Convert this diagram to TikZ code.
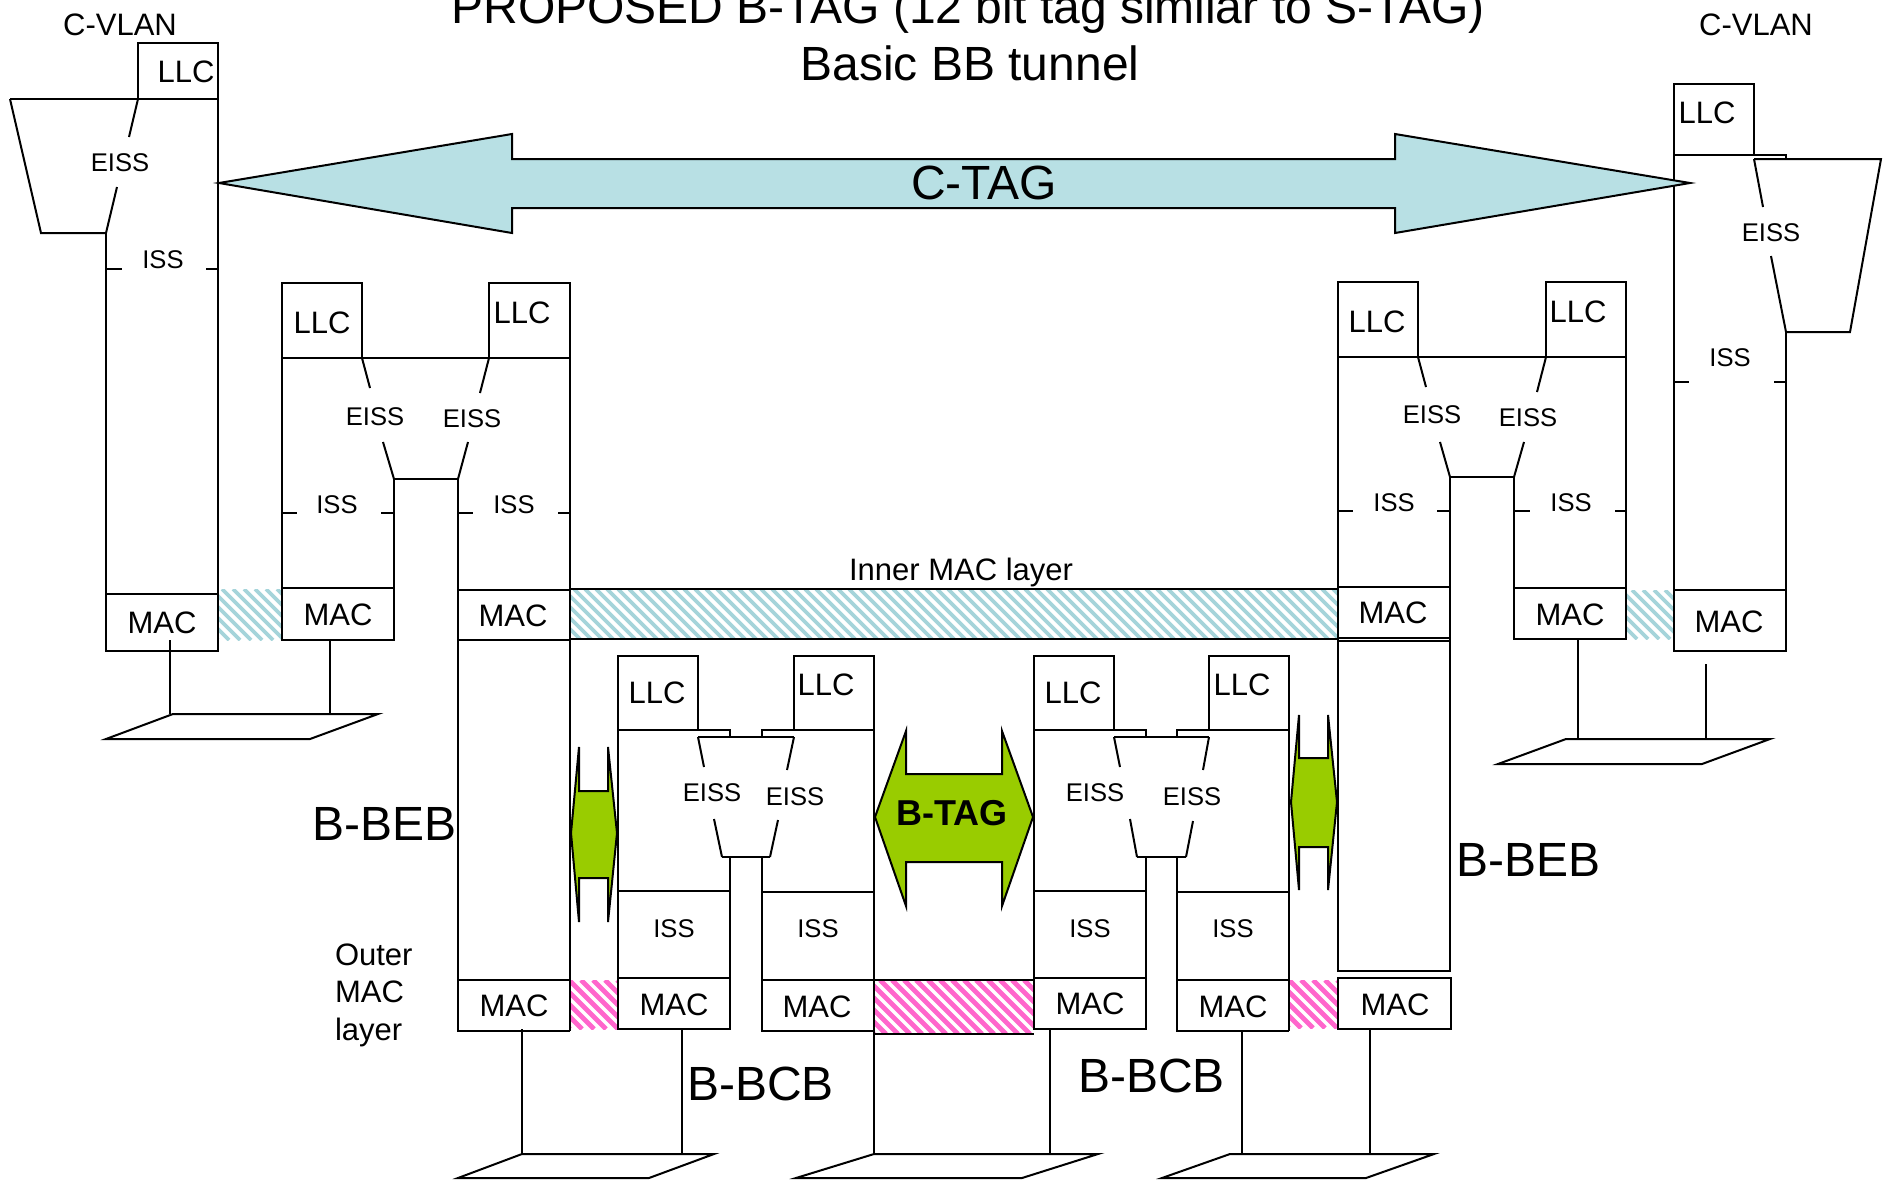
\documentclass[tikz,border=0pt]{standalone}
\usepackage{fontspec}
\setmainfont{Liberation Sans}
\definecolor{ctagfill}{RGB}{184,224,228}
\definecolor{hcyan}{RGB}{165,212,218}
\definecolor{hpink}{RGB}{255,102,204}
\definecolor{bgreen}{RGB}{153,204,0}
\newcommand{\hatchbox}[7]{%
  \begin{scope}
    \clip (#3,#4) rectangle (#5,#6);
    \pgfmathsetmacro{\hatchH}{#6-#4}
    \foreach \k in {0,...,95}{
      \draw[draw=#1, line width=#2] ({#3-\hatchH+\k*#7},#4) -- ++(\hatchH,\hatchH);
    }
  \end{scope}}
\begin{document}
\begin{tikzpicture}[x=0.5pt, y=-0.5pt, line width=1pt,
  sm/.style={inner sep=0pt, font=\fontsize{12.8}{15}\selectfont},
  md/.style={inner sep=0pt, font=\fontsize{15.5}{18.5}\selectfont},
  lg/.style={inner sep=0pt, font=\fontsize{24}{28}\selectfont},
  tagtxt/.style={inner sep=0pt, font=\bfseries\fontsize{18}{21}\selectfont},
  greenarrow/.style={fill=bgreen, draw=black},
  plat/.style={draw=black}]
\fill[white] (0,0) rectangle (1890,1180);
\useasboundingbox (0,0) rectangle (1890,1180);

% ---------- hatched layers ----------
\hatchbox{hcyan}{1.9pt}{218}{589}{282}{640}{11}
\hatchbox{hcyan}{1.9pt}{569}{589}{1338}{639}{11}
\hatchbox{hcyan}{1.9pt}{1626}{590}{1674}{639}{11}
\draw (569,589) -- (1338,589);
\draw (569,639) -- (1338,639);
\hatchbox{hpink}{2.4pt}{570}{980}{618}{1029}{12}
\hatchbox{hpink}{2.4pt}{874}{980}{1034}{1034}{12}
\hatchbox{hpink}{2.4pt}{1289}{980}{1337}{1028}{12}
\draw (874,980) -- (1034,980);
\draw (874,1034) -- (1034,1034);

% ---------- title ----------
\node[lg, anchor=base] (title1) at (968,23) {PROPOSED B-TAG (12 bit tag similar to S-TAG)};
\node[lg, anchor=base] (title2) at (970,80) {Basic BB tunnel};

% ---------- left C-VLAN ----------
\node[md] (cvlanL) at (120,25) {C-VLAN};
\draw (138,43) rectangle (218,99);
\node[md] (llcA) at (186,72) {LLC};
\draw (10,99) -- (218,99);
\draw (218,99) -- (218,594);
\draw (106,233) -- (106,594);
\draw (10,99) -- (41,233) -- (106,233);
\draw (138,99) -- (129,137);
\draw (117,187) -- (106,233);
\node[sm] (eissA) at (120,163) {EISS};
\draw (106,269) -- (122,269);
\draw (206,269) -- (218,269);
\node[sm] (issA) at (163,260) {ISS};
\draw (106,594) rectangle (218,651);
\node[md] (macA) at (162,623) {MAC};
\draw (170,640) -- (170,714);
\draw (330,640) -- (330,714);
\draw[plat] (173,714) -- (378,714) -- (310,739) -- (106,739) -- cycle;

% ---------- left B-BEB ----------
\draw (282,283) rectangle (362,358);
\node[md] (llcB1) at (322,323) {LLC};
\draw (489,283) rectangle (570,358);
\node[md] (llcB2) at (522,313) {LLC};
\draw (282,358) -- (570,358);
\draw (282,358) -- (282,640) -- (394,640) -- (394,479);
\draw (570,283) -- (570,1031);
\draw (362,358) -- (370,388);
\draw (383,442) -- (394,479);
\draw (489,358) -- (480,393);
\draw (468,442) -- (458,479);
\draw (394,479) -- (458,479);
\draw (458,479) -- (458,1031) -- (570,1031);
\node[sm] (eissB1) at (375,417) {EISS};
\node[sm] (eissB2) at (472,419) {EISS};
\draw (282,513) -- (297,513);
\draw (381,513) -- (394,513);
\node[sm] (issB1) at (337,505) {ISS};
\draw (458,513) -- (473,513);
\draw (558,513) -- (570,513);
\node[sm] (issB2) at (514,505) {ISS};
\draw (282,588) -- (394,588);
\node[md] (macB1) at (338,615) {MAC};
\draw (458,590) -- (570,590);
\draw (458,640) -- (570,640);
\node[md] (macB2) at (513,616) {MAC};
\draw (458,980) -- (570,980);
\node[md] (macB3) at (514,1006) {MAC};
\draw (522,1029) -- (522,1154);
\draw[plat] (522,1154) -- (714,1154) -- (649,1178) -- (458,1178) -- cycle;
\node[lg, anchor=base west] (bbebL) at (311,840) {B-BEB};

% ---------- outer MAC label ----------
\node[md, anchor=base west] (outer1) at (334,965) {Outer};
\node[md, anchor=base west] (outer2) at (334,1002.5) {MAC};
\node[md, anchor=base west] (outer3) at (334,1040) {layer};
\node[md, anchor=base] (inner) at (961,580) {Inner MAC layer};

% ---------- left B-BCB ----------
\draw (618,656) rectangle (698,730);
\node[md] (llcC1) at (657,693) {LLC};
\draw (794,656) rectangle (874,730);
\node[md] (llcC2) at (826,685) {LLC};
\draw (618,656) -- (618,1029) -- (730,1029) -- (730,857);
\draw (618,730) -- (730,730) -- (730,737);
\draw (762,737) -- (762,730) -- (874,730);
\draw (874,656) -- (874,1154);
\draw (762,857) -- (762,1031) -- (874,1031);
\draw (698,737) -- (794,737);
\draw (698,737) -- (704,767);
\draw (714,819) -- (722,857);
\draw (794,737) -- (787,770);
\draw (778,820) -- (770,857);
\draw (722,857) -- (770,857);
\node[sm] (eissC1) at (712,793) {EISS};
\node[sm] (eissC2) at (795,797) {EISS};
\draw (618,891) -- (730,891);
\draw (762,892) -- (874,892);
\node[sm] (issC1) at (674,929) {ISS};
\node[sm] (issC2) at (818,929) {ISS};
\draw (618,978) -- (730,978);
\draw (762,980) -- (874,980);
\node[md] (macC1) at (674,1005) {MAC};
\node[md] (macC2) at (817,1007) {MAC};
\draw (682,1029) -- (682,1154);
\draw[plat] (874,1154) -- (1098,1154) -- (1022,1178) -- (796,1178) -- cycle;
\node[lg, anchor=base west] (bbcbL) at (686,1100) {B-BCB};

% ---------- right B-BCB ----------
\draw (1034,656) rectangle (1114,730);
\node[md] (llcD1) at (1073,693) {LLC};
\draw (1209,656) rectangle (1289,730);
\node[md] (llcD2) at (1242,685) {LLC};
\draw (1034,656) -- (1034,1029) -- (1146,1029) -- (1146,857);
\draw (1034,730) -- (1146,730) -- (1146,737);
\draw (1177,737) -- (1177,730) -- (1289,730);
\draw (1289,656) -- (1289,1031);
\draw (1177,857) -- (1177,1031) -- (1289,1031);
\draw (1114,737) -- (1209,737);
\draw (1114,737) -- (1120,767);
\draw (1130,819) -- (1137,857);
\draw (1209,737) -- (1203,770);
\draw (1193,821) -- (1186,857);
\draw (1137,857) -- (1186,857);
\node[sm] (eissD1) at (1095,793) {EISS};
\node[sm] (eissD2) at (1192,797) {EISS};
\draw (1034,891) -- (1146,891);
\draw (1177,892) -- (1289,892);
\node[sm] (issD1) at (1090,929) {ISS};
\node[sm] (issD2) at (1233,929) {ISS};
\draw (1034,978) -- (1146,978);
\draw (1177,980) -- (1289,980);
\node[md] (macD1) at (1090,1004) {MAC};
\node[md] (macD2) at (1233,1007) {MAC};
\draw (1050,1029) -- (1050,1154);
\draw (1242,1031) -- (1242,1154);
\draw[plat] (1230,1154) -- (1434,1154) -- (1366,1178) -- (1162,1178) -- cycle;
\node[lg, anchor=base west] (bbcbR) at (1077,1092) {B-BCB};

% ---------- right B-BEB ----------
\draw (1338,282) rectangle (1418,357);
\node[md] (llcE1) at (1377,322) {LLC};
\draw (1546,282) rectangle (1626,357);
\node[md] (llcE2) at (1578,312) {LLC};
\draw (1338,357) -- (1626,357);
\draw (1338,357) -- (1338,971) -- (1450,971) -- (1450,477);
\draw (1626,282) -- (1626,639) -- (1514,639) -- (1514,477);
\draw (1418,357) -- (1426,387);
\draw (1440,442) -- (1450,477);
\draw (1546,357) -- (1537,392);
\draw (1524,442) -- (1514,477);
\draw (1450,477) -- (1514,477);
\node[sm] (eissE1) at (1432,415) {EISS};
\node[sm] (eissE2) at (1528,418) {EISS};
\draw (1338,511) -- (1353,511);
\draw (1437,511) -- (1450,511);
\node[sm] (issE1) at (1394,503) {ISS};
\draw (1514,511) -- (1530,511);
\draw (1615,511) -- (1626,511);
\node[sm] (issE2) at (1571,503) {ISS};
\draw (1338,587) -- (1450,587);
\draw (1338,638) -- (1450,638);
\draw (1338,641) -- (1450,641);
\node[md] (macE1) at (1393,613) {MAC};
\draw (1514,588) -- (1626,588);
\node[md] (macE2) at (1570,615) {MAC};
\draw (1338,978) rectangle (1451,1029);
\node[md] (macE3) at (1395,1005) {MAC};
\draw (1370,1029) -- (1370,1154);
\node[lg, anchor=base west] (bbebR) at (1455,876) {B-BEB};

% ---------- right C-VLAN ----------
\node[md] (cvlanR) at (1756,25) {C-VLAN};
\draw (1674,84) rectangle (1754,155);
\node[md] (llcF) at (1707,113) {LLC};
\draw (1674,155) -- (1674,651);
\draw (1674,155) -- (1786,155) -- (1786,159);
\draw (1786,332) -- (1786,590);
\draw (1754,159) -- (1881,159) -- (1850,332) -- (1786,332);
\draw (1754,159) -- (1763,207);
\draw (1771,256) -- (1786,332);
\node[sm] (eissF) at (1771,233) {EISS};
\draw (1674,382) -- (1689,382);
\draw (1774,382) -- (1786,382);
\node[sm] (issF) at (1730,358) {ISS};
\draw (1674,590) rectangle (1786,651);
\node[md] (macF) at (1729,622) {MAC};
\draw (1578,639) -- (1578,739);
\draw (1706,664) -- (1706,739);
\draw[plat] (1566,739) -- (1770,739) -- (1702,764) -- (1498,764) -- cycle;

% ---------- tag arrows ----------
\draw[fill=ctagfill] (219,183) -- (512,134) -- (512,159) -- (1395,159) -- (1395,134)
  -- (1690,183) -- (1395,233) -- (1395,208) -- (512,208) -- (512,233) -- cycle;
\node[lg, anchor=base] (ctag) at (984,199) {C-TAG};
\draw[greenarrow] (875,817) -- (906,731) -- (906,774) -- (1002,774) -- (1002,731)
  -- (1033,817) -- (1002,906) -- (1002,862) -- (906,862) -- (906,906) -- cycle;
\node[tagtxt] (btag) at (952,813) {B-TAG};
\draw[greenarrow] (571,833) -- (579,747) -- (579,791) -- (608,791) -- (608,747)
  -- (617,833) -- (608,922) -- (608,878) -- (579,878) -- (579,922) -- cycle;
\draw[greenarrow] (1291,802) -- (1299,715) -- (1299,758) -- (1328,758) -- (1328,715)
  -- (1337,802) -- (1328,890) -- (1328,847) -- (1299,847) -- (1299,890) -- cycle;
\end{tikzpicture}
\end{document}
